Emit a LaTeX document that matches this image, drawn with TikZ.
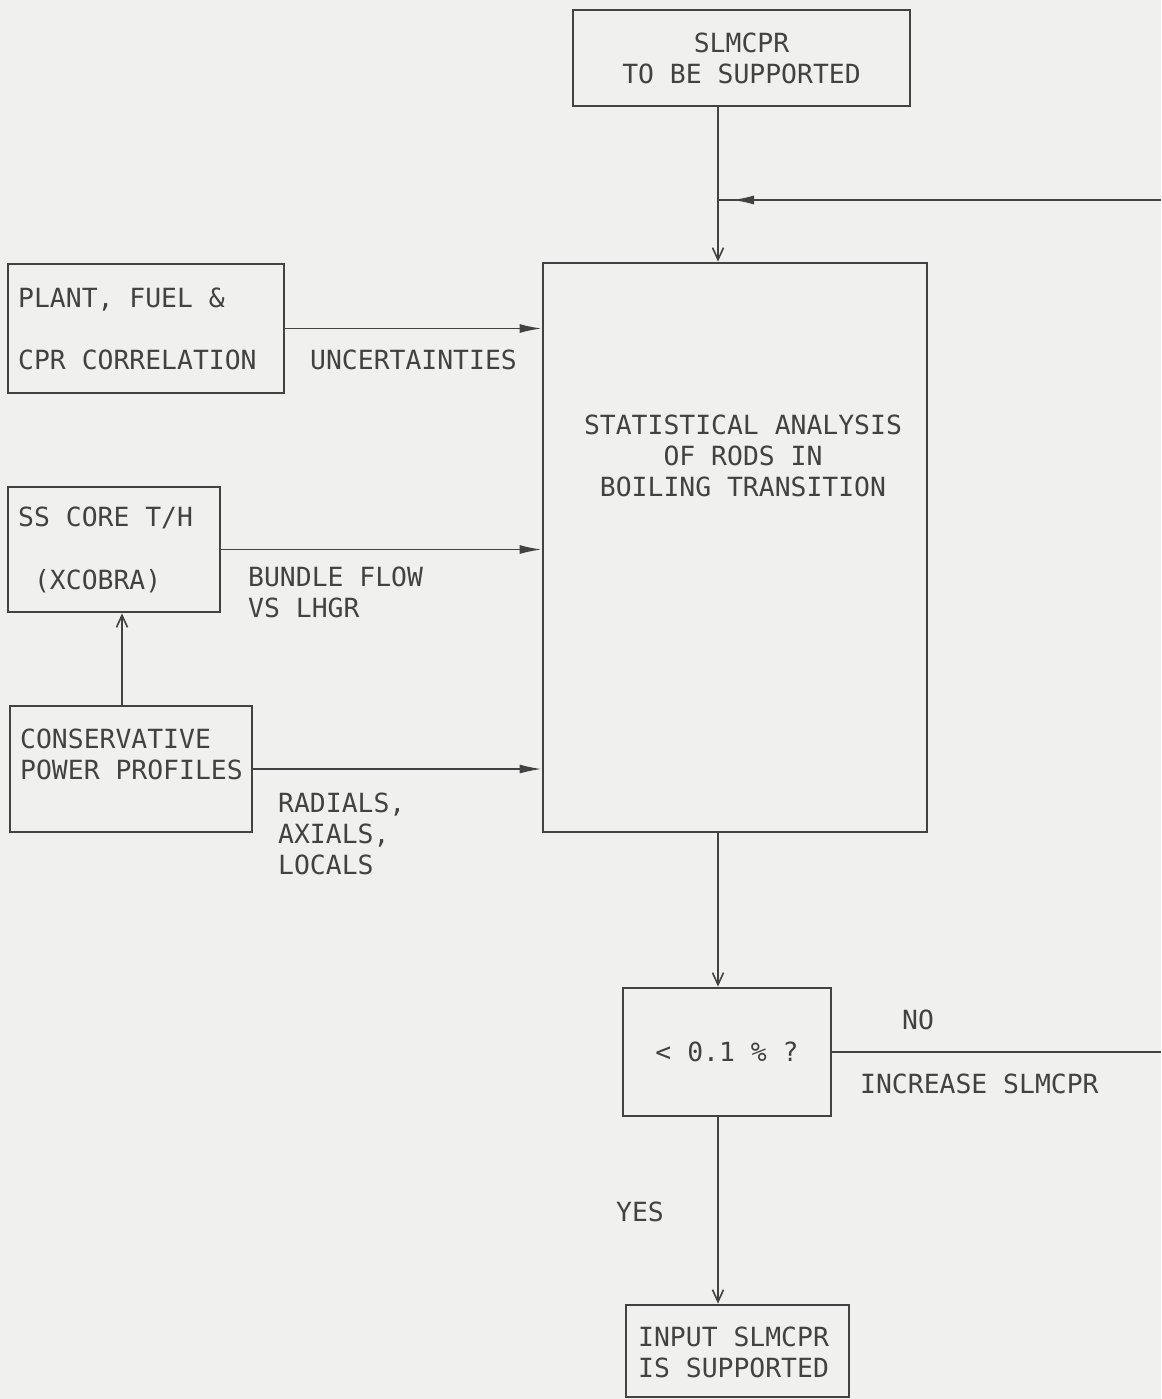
\documentclass[tikz,border=0pt]{standalone}
\usepackage{fontspec}
\setmonofont{DejaVu Sans Mono}
\usetikzlibrary{arrows.meta}
\definecolor{ink}{RGB}{66,66,66}
\definecolor{paper}{RGB}{240,240,238}
\begin{document}
\begin{tikzpicture}[x=1pt,y=-1pt,
  every node/.style={font=\ttfamily\fontsize{26.4}{31}\selectfont, text=ink},
  box/.style={draw=ink, line width=2.8pt, inner sep=0pt},
  conn/.style={draw=ink, line width=1.6pt},
  harr/.style={conn, -{Latex[length=22pt,width=9pt]}},
  varr/.style={conn, -{Straight Barb[length=12pt,width=11pt,line width=1.6pt]}},
  lbl/.style={anchor=west, align=left, inner sep=0pt},
]
\fill[paper] (0,0) rectangle (1161,1399);
\useasboundingbox (0,0) rectangle (1161,1399);

% boxes
\node[box, minimum width=337pt, minimum height=96pt, align=center] (top) at (741.5,58) {SLMCPR\\TO BE SUPPORTED};
\node[box, minimum width=384pt, minimum height=569pt] (stat) at (735,547.5) {};
\node[align=center, inner sep=0pt] (stattxt) at (743,456) {STATISTICAL ANALYSIS\\OF RODS IN\\BOILING TRANSITION};
\node[box, minimum width=276pt, minimum height=129pt] (plant) at (146,328.5) {};
\node[lbl] (planttxt) at (18,329) {PLANT, FUEL \&\\[31pt]CPR CORRELATION};
\node[box, minimum width=212pt, minimum height=125pt] (sscore) at (114,549.5) {};
\node[lbl] (sscoretxt) at (18,550) {SS CORE T/H\\[32pt]\hphantom{X}(XCOBRA)};
\node[box, minimum width=242pt, minimum height=126pt] (cons) at (131,769) {};
\node[lbl] (constxt) at (20,754) {CONSERVATIVE\\POWER PROFILES};
\node[box, minimum width=208pt, minimum height=128pt] (dec) at (727,1052) {< 0.1 \% ?};
\node[box, minimum width=223pt, minimum height=92pt] (inp) at (737.5,1351) {};
\node[lbl] (inptxt) at (638,1352) {INPUT SLMCPR\\IS SUPPORTED};

% labels
\node[lbl] (unc) at (310,360) {UNCERTAINTIES};
\node[lbl] (bfl) at (248,592) {BUNDLE FLOW\\VS LHGR};
\node[lbl] (rad) at (278,834) {RADIALS,\\AXIALS,\\LOCALS};
\node (no) at (918,1020) {NO};
\node[lbl] (inc) at (860,1084) {INCREASE SLMCPR};
\node (yes) at (640,1212) {YES};

% helper coordinates
\coordinate (spine) at (718,0);
\coordinate (upx) at (122,0);
\coordinate (redge) at (1161,0);
\coordinate (fbR) at (1161,200);
\coordinate (fbJ) at (718,200);
\coordinate (fbT) at (732,200);

% connectors
\draw[varr] (top.south -| spine) -- (stat.north -| spine);
\draw[conn] (fbR) -- (fbJ);
\draw[harr] (fbR) -- (fbT);
\draw[harr] (plant.east) -- (plant.east -| stat.west);
\draw[harr] (sscore.east) -- (sscore.east -| stat.west);
\draw[harr] (cons.east) -- (cons.east -| stat.west);
\draw[varr] (cons.north -| upx) -- (sscore.south -| upx);
\draw[varr] (stat.south -| spine) -- (dec.north -| spine);
\draw[conn] (dec.east) -- (dec.east -| redge);
\draw[varr] (dec.south -| spine) -- (inp.north -| spine);
\end{tikzpicture}
\end{document}
